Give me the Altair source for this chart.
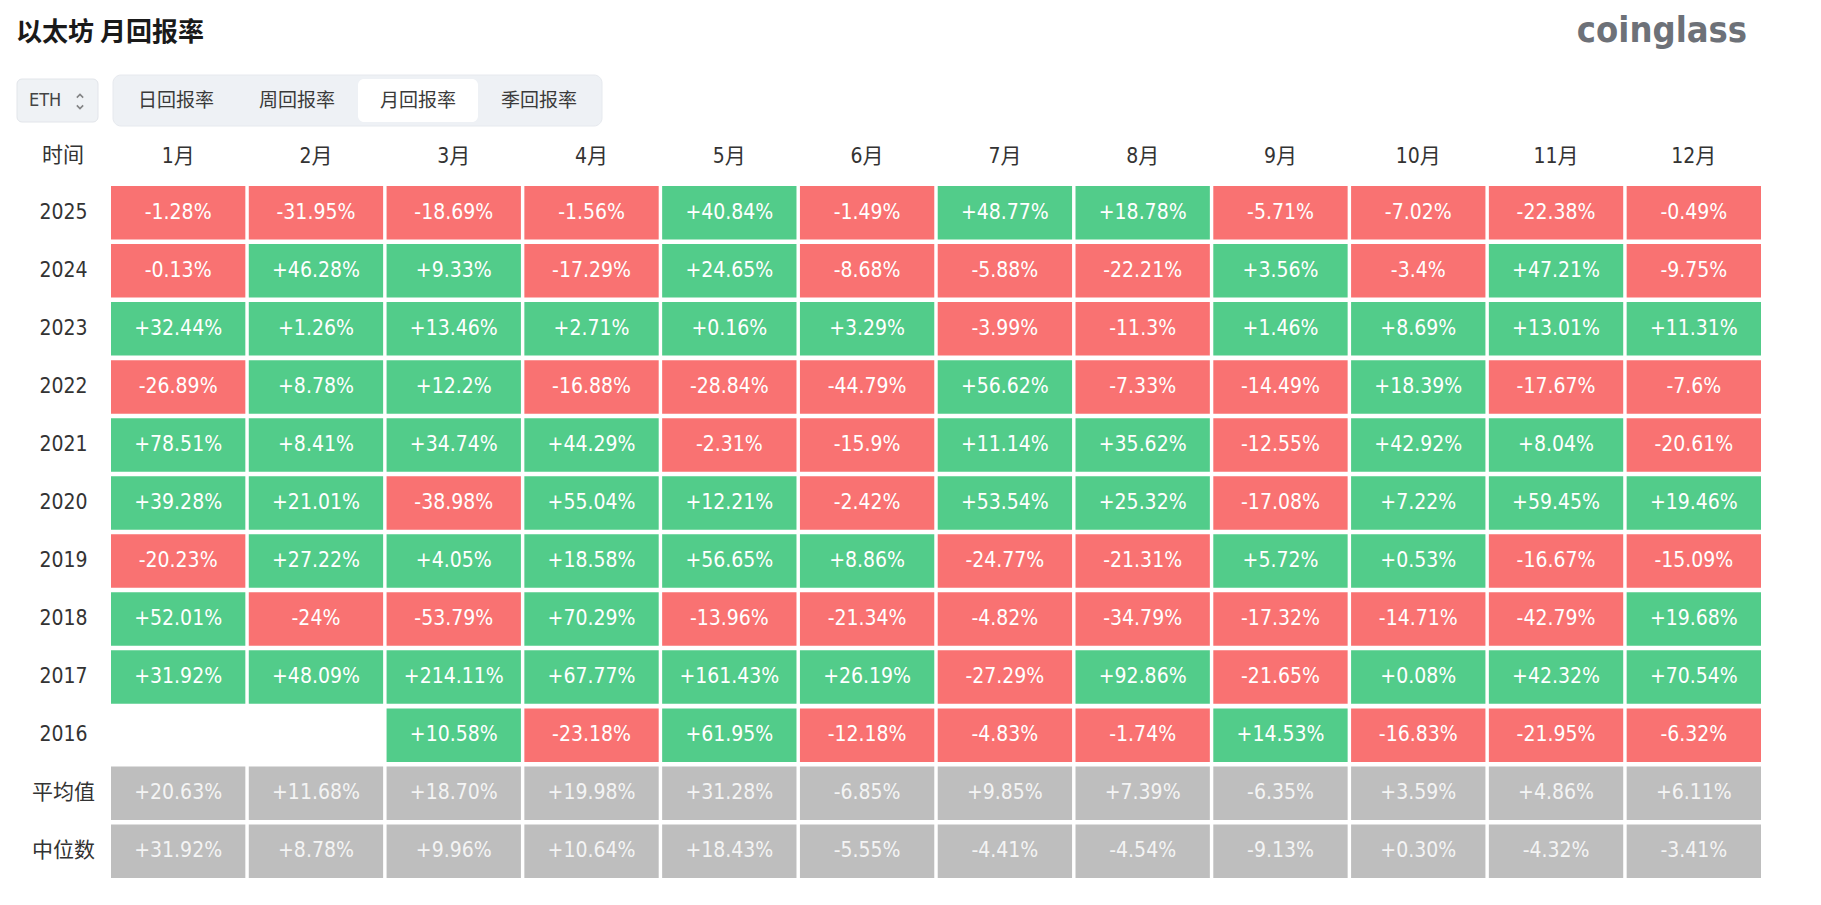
import altair as alt
import pandas as pd

months = ["1月", "2月", "3月", "4月", "5月", "6月", "7月", "8月", "9月", "10月", "11月", "12月"]
rows = ["2025", "2024", "2023", "2022", "2021", "2020", "2019", "2018", "2017", "2016", "平均值", "中位数"]

r2025 = [-1.28, -31.95, -18.69, -1.56, 40.84, -1.49, 48.77, 18.78, -5.71, -7.02, -22.38, -0.49]
r2024 = [-0.13, 46.28, 9.33, -17.29, 24.65, -8.68, -5.88, -22.21, 3.56, -3.4, 47.21, -9.75]
r2023 = [32.44, 1.26, 13.46, 2.71, 0.16, 3.29, -3.99, -11.3, 1.46, 8.69, 13.01, 11.31]
r2022 = [-26.89, 8.78, 12.2, -16.88, -28.84, -44.79, 56.62, -7.33, -14.49, 18.39, -17.67, -7.6]
r2021 = [78.51, 8.41, 34.74, 44.29, -2.31, -15.9, 11.14, 35.62, -12.55, 42.92, 8.04, -20.61]
r2020 = [39.28, 21.01, -38.98, 55.04, 12.21, -2.42, 53.54, 25.32, -17.08, 7.22, 59.45, 19.46]
r2019 = [-20.23, 27.22, 4.05, 18.58, 56.65, 8.86, -24.77, -21.31, 5.72, 0.53, -16.67, -15.09]
r2018 = [52.01, -24, -53.79, 70.29, -13.96, -21.34, -4.82, -34.79, -17.32, -14.71, -42.79, 19.68]
r2017 = [31.92, 48.09, 214.11, 67.77, 161.43, 26.19, -27.29, 92.86, -21.65, 0.08, 42.32, 70.54]
r2016 = [None, None, 10.58, -23.18, 61.95, -12.18, -4.83, -1.74, 14.53, -16.83, -21.95, -6.32]
mean_row = [20.63, 11.68, 18.70, 19.98, 31.28, -6.85, 9.85, 7.39, -6.35, 3.59, 4.86, 6.11]
median_row = [31.92, 8.78, 9.96, 10.64, 18.43, -5.55, -4.41, -4.54, -9.13, 0.30, -4.32, -3.41]

year_rows = [r2025, r2024, r2023, r2022, r2021, r2020, r2019, r2018, r2017, r2016]
tabs = ["日回报率", "周回报率", "月回报率", "季回报率"]

records = []
for name, vals in zip(rows, year_rows + [mean_row, median_row]):
    stat = name in ("平均值", "中位数")
    for m, v in zip(months, vals):
        if v is None:
            continue
        if stat:
            label = f"{v:+.2f}%"
            kind = "stat"
        else:
            label = f"{v:+g}%"
            kind = "up" if v >= 0 else "down"
        records.append({"row": name, "month": m, "value": v, "label": label, "kind": kind})
df = pd.DataFrame(records)

GREEN = "#52CC8A"
RED = "#F97272"
GRAY = "#BEBEBE"
NUM_FONT = "DejaVu Sans Condensed, Noto Sans CJK SC, sans-serif"
CJK_FONT = "Noto Sans CJK SC, sans-serif"

xs = alt.X("month:N", sort=months,
           scale=alt.Scale(paddingInner=0.025, paddingOuter=0),
           axis=alt.Axis(orient="top", title=None, domain=False, ticks=False, tickSize=0,
                         labelPadding=30, labelBaseline="middle", labelAngle=0,
                         labelFont=NUM_FONT, labelFontSize=21, labelColor="#333333"))
ys = alt.Y("row:N", sort=rows,
           scale=alt.Scale(paddingInner=0.078, paddingOuter=0),
           axis=alt.Axis(title=None, domain=False, ticks=False, tickSize=0,
                         labelPadding=48, labelAlign="center", labelBaseline="middle",
                         labelFont=NUM_FONT, labelFontSize=21, labelColor="#333333"))

base = alt.Chart(df)
cells = base.mark_rect().encode(
    x=xs, y=ys,
    color=alt.Color("kind:N", scale=alt.Scale(domain=["up", "down", "stat"], range=[GREEN, RED, GRAY]), legend=None),
)
texts = base.mark_text(font=NUM_FONT, fontSize=21, baseline="middle", align="center").encode(
    x=xs, y=ys,
    text="label:N",
    color=alt.condition(alt.datum.kind == "stat", alt.value("#F4F4F4"), alt.value("#FFFFFF")),
)

one = pd.DataFrame({"k": [0]})
deco = alt.Chart(one)

title = deco.mark_text(text="以太坊 月回报率", font=CJK_FONT, fontSize=26, fontWeight="bold",
                       align="left", baseline="middle", color="#1a1a1a").encode(
    x=alt.value(-95), y=alt.value(-153))
logo = deco.mark_text(text="coinglass", font="DejaVu Sans Condensed, sans-serif", fontSize=36,
                      fontWeight="bold", align="center", baseline="alphabetic", color="#6d7178").encode(
    x=alt.value(1551), y=alt.value(-144))
eth_box = deco.mark_rect(cornerRadius=5, fill="#eff2f5", stroke="#e2e5ea").encode(
    x=alt.value(-94), x2=alt.value(-13), y=alt.value(-107), y2=alt.value(-64))
eth_text = deco.mark_text(text="ETH", font=NUM_FONT, fontSize=18, align="left", baseline="middle",
                          color="#444444").encode(x=alt.value(-82), y=alt.value(-85))
arrow_up = deco.mark_point(shape="M -1 0.5 L 0 -0.5 L 1 0.5", filled=False, stroke="#555555",
                           strokeWidth=1.6, size=40).encode(x=alt.value(-31), y=alt.value(-90))
arrow_dn = deco.mark_point(shape="M -1 -0.5 L 0 0.5 L 1 -0.5", filled=False, stroke="#555555",
                           strokeWidth=1.6, size=40).encode(x=alt.value(-31), y=alt.value(-79))
tab_bg = deco.mark_rect(cornerRadius=8, fill="#eef1f5", stroke="#e6e9ee").encode(
    x=alt.value(2), x2=alt.value(491), y=alt.value(-111), y2=alt.value(-60))
tab_active = deco.mark_rect(cornerRadius=6, fill="#ffffff").encode(
    x=alt.value(247), x2=alt.value(367), y=alt.value(-107), y2=alt.value(-64))

tab_pos = [65, 186, 307, 428]
tab_layers = [
    deco.mark_text(text=t, font=CJK_FONT, fontSize=19, align="center", baseline="middle",
                   color="#3a3a3a").encode(x=alt.value(p), y=alt.value(-85))
    for t, p in zip(tabs, tab_pos)
]
corner = deco.mark_text(text="时间", font=CJK_FONT, fontSize=21, align="center", baseline="middle",
                        color="#333333").encode(x=alt.value(-48), y=alt.value(-30))

chart = alt.layer(
    tab_bg, tab_active, eth_box, eth_text, arrow_up, arrow_dn, *tab_layers, title, logo, corner,
    cells, texts
).properties(
    width=1650, height=692,
    padding={"left": 103, "top": 178, "right": 52, "bottom": 4},
    autosize=alt.AutoSizeParams(type="none"),
).configure_view(stroke=None)

chart.save("out.html", embed_options={"renderer": "svg", "actions": False})
